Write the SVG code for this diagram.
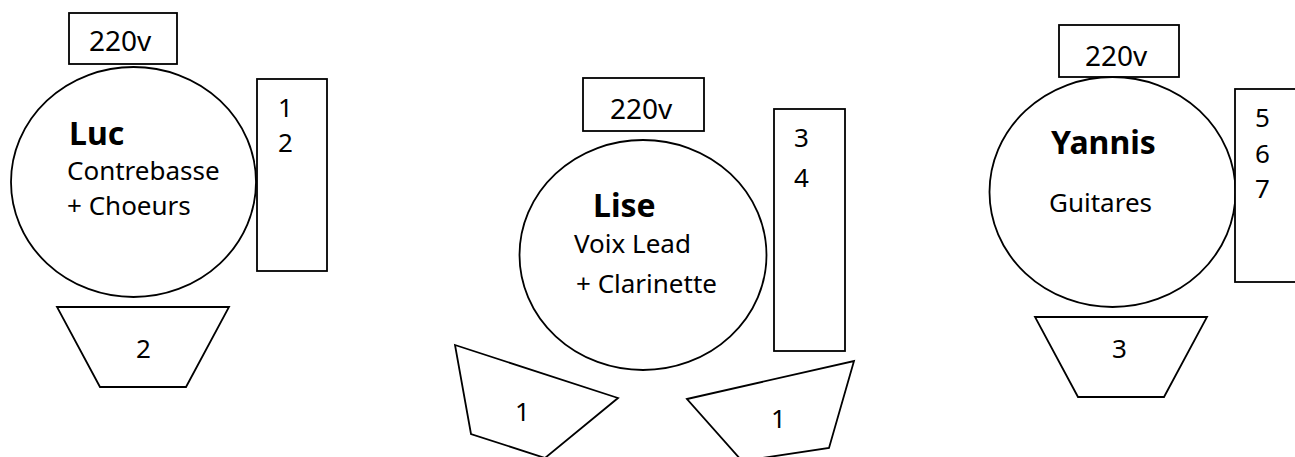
<svg xmlns="http://www.w3.org/2000/svg" width="1295" height="457" viewBox="0 0 1295 457">
<style>
.s{fill:#fff;stroke:#000;stroke-width:1.8}
.t{font-family:"Noto Sans","Open Sans","Liberation Sans",sans-serif;font-size:26px;fill:#000}
.v{font-family:"Noto Sans","Open Sans","Liberation Sans",sans-serif;font-size:28px;fill:#000}
.n{font-family:"Noto Sans","Open Sans","Liberation Sans",sans-serif;font-size:32px;font-weight:bold;fill:#000}
</style>
<rect width="1295" height="457" fill="#fff"/>
<g id="luc">
<rect id="luc-power" class="s" x="69" y="13" width="108" height="51"/>
<text class="v" x="89" y="51">220v</text>
<ellipse class="s" cx="133.5" cy="182" rx="122.5" ry="115"/>
<text class="n" x="69" y="145">Luc</text>
<text class="t" x="67" y="180">Contrebasse</text>
<text class="t" x="67" y="215">+ Choeurs</text>
<rect id="luc-stand" class="s" x="257" y="79" width="70" height="192"/>
<text class="t" x="278" y="117">1</text>
<text class="t" x="278" y="152">2</text>
<polygon id="luc-monitor" class="s" points="57,307 229,307 186,387 100,387"/>
<text class="t" x="136" y="358">2</text>
</g>
<g id="lise">
<rect id="lise-power" class="s" x="583" y="78" width="121" height="53"/>
<text class="v" x="610" y="119">220v</text>
<ellipse class="s" cx="643" cy="255" rx="123.5" ry="115"/>
<text class="n" x="593" y="217">Lise</text>
<text class="t" x="574" y="253">Voix Lead</text>
<text class="t" x="576" y="293">+ Clarinette</text>
<rect id="lise-stand" class="s" x="774" y="109" width="71" height="242"/>
<text class="t" x="794" y="147">3</text>
<text class="t" x="794" y="187">4</text>
<polygon id="lise-monitor-left" class="s" points="455,345 618,398 545,458 471,434"/>
<text class="t" x="515" y="421">1</text>
<polygon id="lise-monitor-right" class="s" points="687,399 854,361 829,448 742,461"/>
<text class="t" x="771" y="428">1</text>
</g>
<g id="yannis">
<rect id="yannis-power" class="s" x="1059" y="25" width="120" height="52"/>
<text class="v" x="1085" y="66">220v</text>
<ellipse class="s" cx="1112.5" cy="192" rx="123" ry="115"/>
<text class="n" x="1051" y="154">Yannis</text>
<text class="t" x="1049" y="212">Guitares</text>
<rect id="yannis-stand" class="s" x="1235" y="89" width="75" height="193"/>
<text class="t" x="1255" y="127">5</text>
<text class="t" x="1255" y="163">6</text>
<text class="t" x="1255" y="198">7</text>
<polygon id="yannis-monitor" class="s" points="1035,317 1207,317 1164,397 1078,397"/>
<text class="t" x="1112" y="358">3</text>
</g>
<g id="connectors"></g>
</svg>
